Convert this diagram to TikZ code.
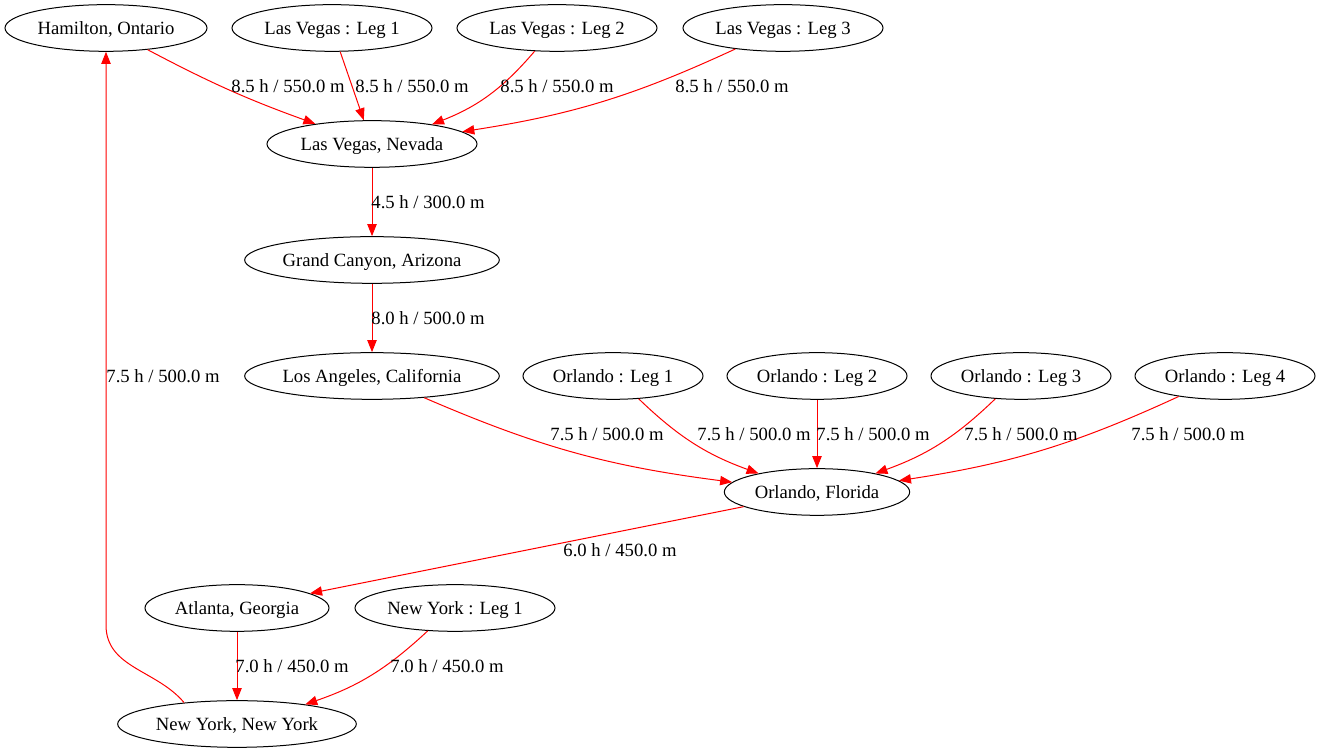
\documentclass[tikz,border=0pt]{standalone}
\usepackage{fontspec}
\setmainfont{Liberation Serif}
\usetikzlibrary{positioning, arrows.meta, shapes.geometric}

\begin{document}
\begin{tikzpicture}[
  x=0.75pt, y=0.75pt,
  city/.style={ellipse, draw=black, line width=0.75pt, minimum height=35pt, inner sep=0pt, text depth=0pt, font=\fontsize{14}{16}\selectfont},
  flight/.style={draw=red, line width=0.75pt, -{Triangle[length=9pt, width=7pt, fill=red]}},
  lbl/.style={font=\fontsize{14}{16}\selectfont, inner sep=1pt},
]

\useasboundingbox (0,0) rectangle (1321,755);

% =========================
% Las Vegas
% =========================
\node[city, minimum width=151.5pt] (ham)    at (106, 727) {Hamilton, Ontario};
\node[city, minimum width=150pt]   (lvleg1) at (332, 727) {Las Vegas : Leg 1};
\node[city, minimum width=150pt]   (lvleg2) at (557, 727) {Las Vegas : Leg 2};
\node[city, minimum width=150pt]   (lvleg3) at (783, 727) {Las Vegas : Leg 3};
\node[city, minimum width=157.5pt] (lv)     at (372, 611) {Las Vegas, Nevada};

\draw[flight, bend right=4] (ham) to (lv);
\draw[flight] (lvleg1) -- (lv);
\draw[flight, bend left=14] (lvleg2) to (lv);
\draw[flight, bend left=8]  (lvleg3) to (lv);

\node[lbl] (lLv0) at (288, 669) {8.5 h / 550.0 m};
\node[lbl] (lLv1) at (412, 669) {8.5 h / 550.0 m};
\node[lbl] (lLv2) at (557, 669) {8.5 h / 550.0 m};
\node[lbl] (lLv3) at (732, 669) {8.5 h / 550.0 m};

% =========================
% Grand Canyon / Los Angeles
% =========================
\node[city, minimum width=191pt] (gc) at (372, 495) {Grand Canyon, Arizona};
\node[city, minimum width=191pt] (la) at (372, 379) {Los Angeles, California};

\draw[flight] (lv) -- (gc);
\draw[flight] (gc) -- (la);

\node[lbl] (lGc) at (428, 553) {4.5 h / 300.0 m};
\node[lbl] (lLa) at (428, 437) {8.0 h / 500.0 m};

% =========================
% Orlando
% =========================
\node[city, minimum width=135pt] (orleg1) at (613, 379)  {Orlando : Leg 1};
\node[city, minimum width=135pt] (orleg2) at (817, 379)  {Orlando : Leg 2};
\node[city, minimum width=135pt] (orleg3) at (1021, 379) {Orlando : Leg 3};
\node[city, minimum width=135pt] (orleg4) at (1225, 379) {Orlando : Leg 4};
\node[city, minimum width=139pt] (orl)    at (817, 263)  {Orlando, Florida};

\draw[flight, bend right=8]  (la) to (orl);
\draw[flight, bend right=12] (orleg1) to (orl);
\draw[flight] (orleg2) -- (orl);
\draw[flight, bend left=12]  (orleg3) to (orl);
\draw[flight, bend left=8]   (orleg4) to (orl);

\node[lbl] (lOr0) at (607, 321)  {7.5 h / 500.0 m};
\node[lbl] (lOr1) at (754, 321)  {7.5 h / 500.0 m};
\node[lbl] (lOr2) at (873, 321)  {7.5 h / 500.0 m};
\node[lbl] (lOr3) at (1021, 321) {7.5 h / 500.0 m};
\node[lbl] (lOr4) at (1188, 321) {7.5 h / 500.0 m};

% =========================
% Atlanta / New York
% =========================
\node[city, minimum width=138pt] (atl)   at (237, 147) {Atlanta, Georgia};
\node[city, minimum width=150pt] (nyleg) at (455, 147) {New York : Leg 1};
\node[city, minimum width=179pt] (ny)    at (237, 31)  {New York, New York};

\draw[flight] (orl) -- (atl);
\draw[flight] (atl) -- (ny);
\draw[flight, bend left=12] (nyleg) to (ny);

\node[lbl] (lAtl) at (620, 205) {6.0 h / 450.0 m};
\node[lbl] (lNy0) at (292, 89)  {7.0 h / 450.0 m};
\node[lbl] (lNy1) at (447, 89)  {7.0 h / 450.0 m};

% back to Hamilton
\coordinate (hamturn) at (106, 130);
\draw[flight] (ny.158) to[out=130, in=-90] (hamturn) -- (ham);
\node[lbl] (lHam) at (163, 379) {7.5 h / 500.0 m};

\end{tikzpicture}
\end{document}
